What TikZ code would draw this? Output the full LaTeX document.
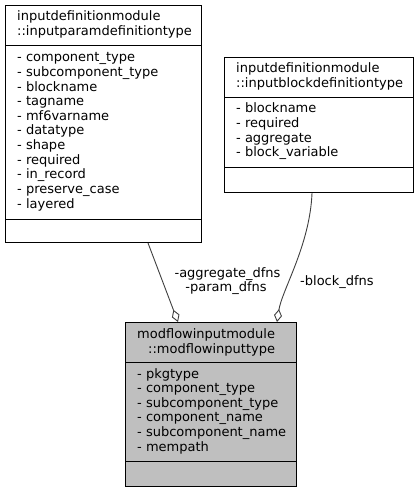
\documentclass[tikz,border=0pt]{standalone}
\usepackage{fontspec}
\setmainfont{DejaVu Sans}
\usetikzlibrary{arrows.meta,calc}
\definecolor{edgegray}{HTML}{404040}
\definecolor{boxfill}{HTML}{BFBFBF}
\begin{document}
\begin{tikzpicture}[x=1pt,y=-1pt,
  classbox/.style={draw=black,line width=1pt,rectangle,inner sep=0pt,anchor=north west},
  sepline/.style={draw=black,line width=1pt},
  txt/.style={anchor=base west,inner sep=0pt,font=\fontsize{13}{14.6}\selectfont},
  lbl/.style={anchor=base,inner sep=0pt,font=\fontsize{13}{14.6}\selectfont},
  edge/.style={draw=edgegray,line width=0.9pt,-{Diamond[open,length=13pt,width=8pt,line width=0.9pt]}}]
\useasboundingbox[fill=white] (0,0) rectangle (418,492);

% boxes
\node[classbox,minimum width=196pt,minimum height=237pt] (pd) at (5,5) {};
\node[classbox,minimum width=188.5pt,minimum height=135pt] (bd) at (224,57) {};
\node[classbox,fill=boxfill,minimum width=171pt,minimum height=164pt] (mi) at (125,322) {};

% separators
\draw[sepline] ($(pd.north west)+(0,41)$) -- ($(pd.north east)+(0,41)$);
\draw[sepline] ($(pd.north west)+(0,214)$) -- ($(pd.north east)+(0,214)$);
\draw[sepline] ($(bd.north west)+(0,40.5)$) -- ($(bd.north east)+(0,40.5)$);
\draw[sepline] ($(bd.north west)+(0,110)$) -- ($(bd.north east)+(0,110)$);
\draw[sepline] ($(mi.north west)+(0,40)$) -- ($(mi.north east)+(0,40)$);
\draw[sepline] ($(mi.north west)+(0,139)$) -- ($(mi.north east)+(0,139)$);

% texts: param definition
\node[txt] (pdt1) at (17,21) {inputdefinitionmodule};
\node[txt] (pdt2) at (17,36) {::inputparamdefinitiontype};
\foreach \t [count=\i from 0] in {component\_type,subcomponent\_type,blockname,tagname,mf6varname,datatype,shape,required,in\_record,preserve\_case,layered}
  \node[txt] (pda\i) at (17,62+14.6*\i) {- \t};

% texts: block definition
\node[txt] (bdt1) at (236,73) {inputdefinitionmodule};
\node[txt] (bdt2) at (236,88) {::inputblockdefinitiontype};
\foreach \t [count=\i from 0] in {blockname,required,aggregate,block\_variable}
  \node[txt] (bda\i) at (236,113+14.6*\i) {- \t};

% texts: modflow input type
\node[txt] (mit1) at (137,338) {modflowinputmodule};
\node[txt] (mit2) at (148,353) {::modflowinputtype};
\foreach \t [count=\i from 0] in {pkgtype,component\_type,subcomponent\_type,component\_name,subcomponent\_name,mempath}
  \node[txt] (mia\i) at (137,378+14.6*\i) {- \t};

% connectors
\draw[edge] ($(pd.south west)+(143,0)$) -- ($(mi.north west)+(53,0)$);
\draw[edge] ($(bd.south west)+(88,0)$) .. controls (310,245) and (282,290) .. ($(mi.north west)+(152,0)$);

% labels
\node[lbl] (l1) at (227.5,277.7) {-aggregate\_dfns};
\node[lbl] (l2) at (226,291.7) {-param\_dfns};
\node[txt] (l3) at (300,285) {-block\_dfns};
\end{tikzpicture}
\end{document}
